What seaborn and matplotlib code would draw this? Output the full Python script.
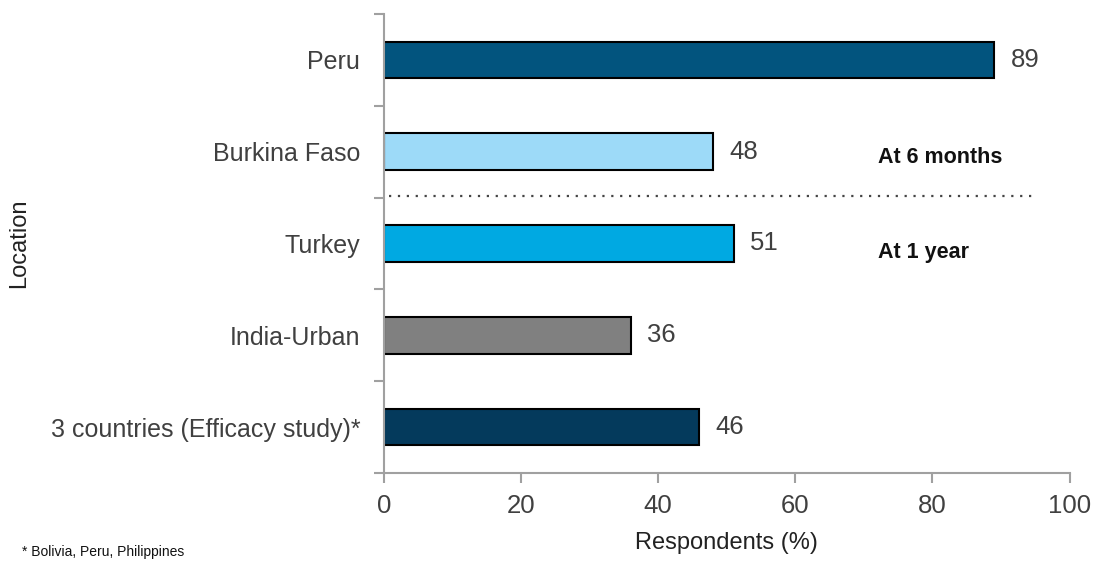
import matplotlib
matplotlib.use("Agg")
import matplotlib.pyplot as plt
import seaborn as sns
import pandas as pd
import numpy as np

locations = ["Peru", "Burkina Faso", "Turkey", "India-Urban", "3 countries (Efficacy study)*"]
respondents = [89, 48, 51, 36, 46]
bar_colors = ["#02547E", "#9DDAF8", "#00A9E2", "#808080", "#043A5C"]
x_ticks = [0, 20, 40, 60, 80, 100]

sns.set_theme(style="white")
plt.rcParams["font.family"] = ["Liberation Sans", "DejaVu Sans"]

df = pd.DataFrame({"Location": locations, "Respondents (%)": respondents})

fig = plt.figure(figsize=(10.97, 5.61), dpi=100)
ax = fig.add_axes([0.350, 0.157, 0.625, 0.818])

sns.barplot(data=df, y="Location", x="Respondents (%)", hue="Location",
            palette=bar_colors, saturation=1, orient="h", width=0.4,
            edgecolor="black", linewidth=1.5, legend=False, ax=ax)

for i, v in enumerate(respondents):
    ax.text(v + 2.4, i, f"{v}", va="center", ha="left", fontsize=18.5, color="#404040")

ax.set_xlim(0, 100)
ax.set_ylim(4.5, -0.5)
ax.set_xticks(x_ticks)
ax.tick_params(axis="x", bottom=True, labelsize=18.5, labelcolor="#404040", length=7,
               width=1.5, direction="out", pad=8, color="#A0A0A0")
ax.set_yticks(range(len(locations)))
ax.set_yticklabels(locations)
ax.tick_params(axis="y", which="major", left=True, length=0, pad=17, labelsize=18,
               labelcolor="#404040")
ax.set_yticks(np.arange(-0.5, len(locations), 1.0), minor=True)
ax.tick_params(axis="y", which="minor", left=True, length=7, width=1.5,
               color="#A0A0A0", direction="out")

for side in ["top", "right"]:
    ax.spines[side].set_visible(False)
for side in ["left", "bottom"]:
    ax.spines[side].set_color("#A0A0A0")
    ax.spines[side].set_linewidth(1.5)

ax.set_xlabel("Respondents (%)", fontsize=17, color="#222222")
ax.xaxis.set_label_coords(0.5, -0.128)
ax.set_ylabel("Location", fontsize=17, color="#222222")
ax.yaxis.set_label_coords(-0.516, 0.5)

# divider between the 6-month and 1-year results
ax.plot([0.8, 94.9], [1.48, 1.48], linestyle=(0, (1, 3)), color="#444444", linewidth=1.6,
        clip_on=False)
ax.text(72, 1.065, "At 6 months", fontsize=15.5, fontweight="bold", color="#111111", va="center")
ax.text(72, 2.1, "At 1 year", fontsize=15.5, fontweight="bold", color="#111111", va="center")

fig.text(0.02, 0.004, "* Bolivia, Peru, Philippines", fontsize=10, color="#111111", va="bottom")

fig.savefig("out.png", dpi=100)
